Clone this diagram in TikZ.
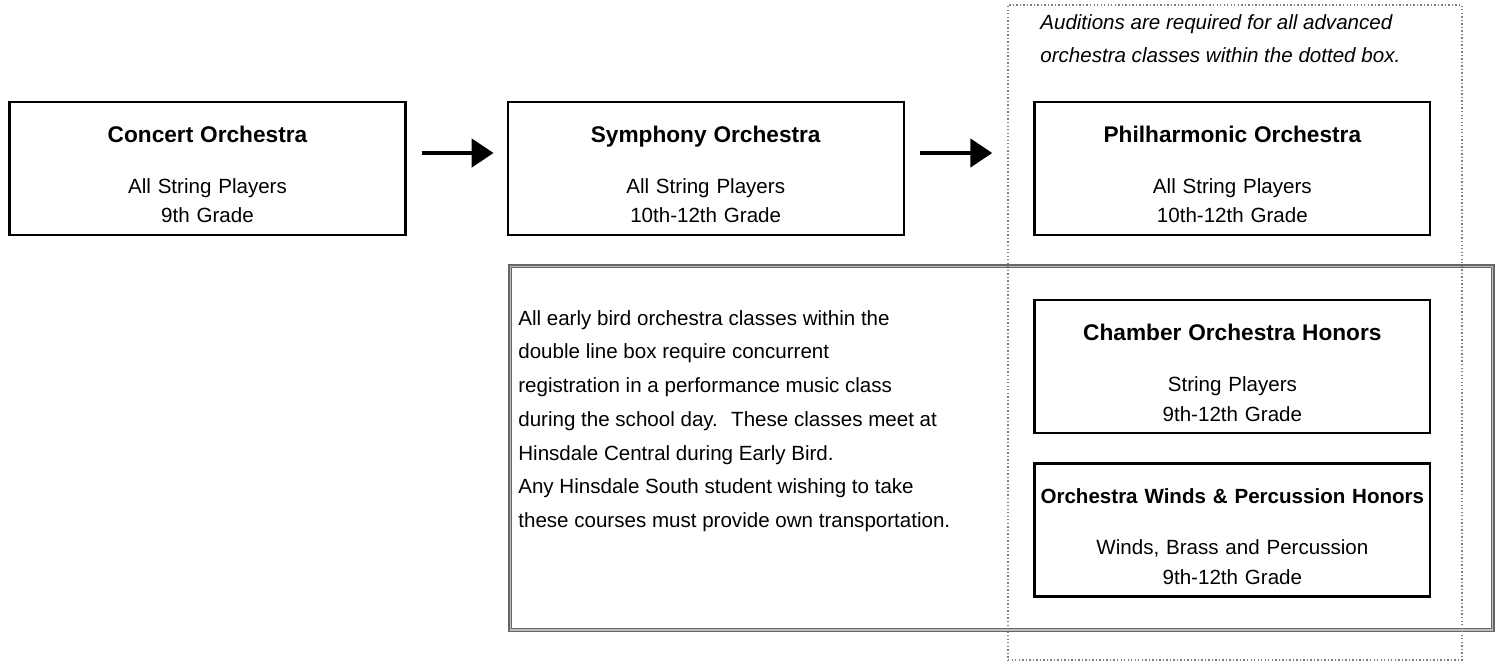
\documentclass[tikz,border=0pt]{standalone}
\usepackage{fontspec}
\setmainfont{Liberation Sans}
\usetikzlibrary{positioning,arrows.meta}

\begin{document}
\begin{tikzpicture}[x=0.02cm,y=-0.02cm,node distance=1.25cm]
	\tikzstyle{flow} = [align=center,text width=7.7cm,font=\fontsize{11.7}{17}\selectfont]
	\tikzstyle{class} = [draw,rectangle,line width=1.3pt,minimum width=7.92cm,minimum height=2.66cm,inner xsep=0.11cm,inner ysep=0pt,flow]
	\tikzstyle{note} = [align=left,inner sep=0pt,anchor=north west]
	\tikzstyle{advance} = [line width=2.8pt,-{Triangle[length=0.44cm,width=0.56cm]}]
	\useasboundingbox (0,0) rectangle (1501,663);

	\node (birdbox) [draw=black!60,double=black!25,line width=0.9pt,double distance=0.6pt,minimum width=19.66cm,minimum height=7.28cm,inner sep=0pt] at (1001.5,448) {};
	\node (auditbox) [draw=black!50,line width=0.8pt,dash pattern=on 0.8pt off 1.2pt,minimum width=9.08cm,minimum height=13.1cm,inner sep=0pt] at (1235,332.5) {};

	\node (concert) [class] at (207.5,168.5) {{\fontsize{12.9}{15}\selectfont\bfseries\rule{0pt}{16pt}Concert Orchestra}\\[12pt]All String Players\\9th Grade};
	\node (symphony) [class,right=2.0cm of concert] {{\fontsize{12.9}{15}\selectfont\bfseries\rule{0pt}{16pt}Symphony Orchestra}\\[12pt]All String Players\\10th-12th Grade};
	\node (philharmonic) [class,right=2.57cm of symphony] {{\fontsize{12.9}{15}\selectfont\bfseries\rule{0pt}{16pt}Philharmonic Orchestra}\\[12pt]All String Players\\10th-12th Grade};
	\node (chamber) [class,below=1.26cm of philharmonic] {{\fontsize{12.9}{15}\selectfont\bfseries\rule{0pt}{16pt}Chamber Orchestra Honors}\\[12pt]String Players\\9th-12th Grade};
	\node (winds) [class,below=0.56cm of chamber] {{\fontsize{11.7}{15}\selectfont\bfseries\rule{0pt}{16pt}Orchestra Winds \& Percussion Honors}\\[12pt]Winds, Brass and Percussion\\9th-12th Grade};

	\node (auditnote) [note,font=\fontsize{11.7}{18.7}\selectfont\itshape] at (1040,14) {Auditions are required for all advanced\\orchestra classes within the dotted box.};
	\node (birdnote) [note,font=\fontsize{11.7}{19.2}\selectfont] at (518,310) {All early bird orchestra classes within the\\double line box require concurrent\\registration in a performance music class\\during the school day.~ These classes meet at\\Hinsdale Central during Early Bird.\\Any Hinsdale South student wishing to take\\these courses must provide own transportation.};

	\draw[advance,shorten <=0.3cm,shorten >=0.26cm] ([yshift=0.31cm]concert.east) -- ([yshift=0.31cm]symphony.west);
	\draw[advance,shorten <=0.3cm,shorten >=0.82cm] ([yshift=0.31cm]symphony.east) -- ([yshift=0.31cm]philharmonic.west);
\end{tikzpicture}
\end{document}
